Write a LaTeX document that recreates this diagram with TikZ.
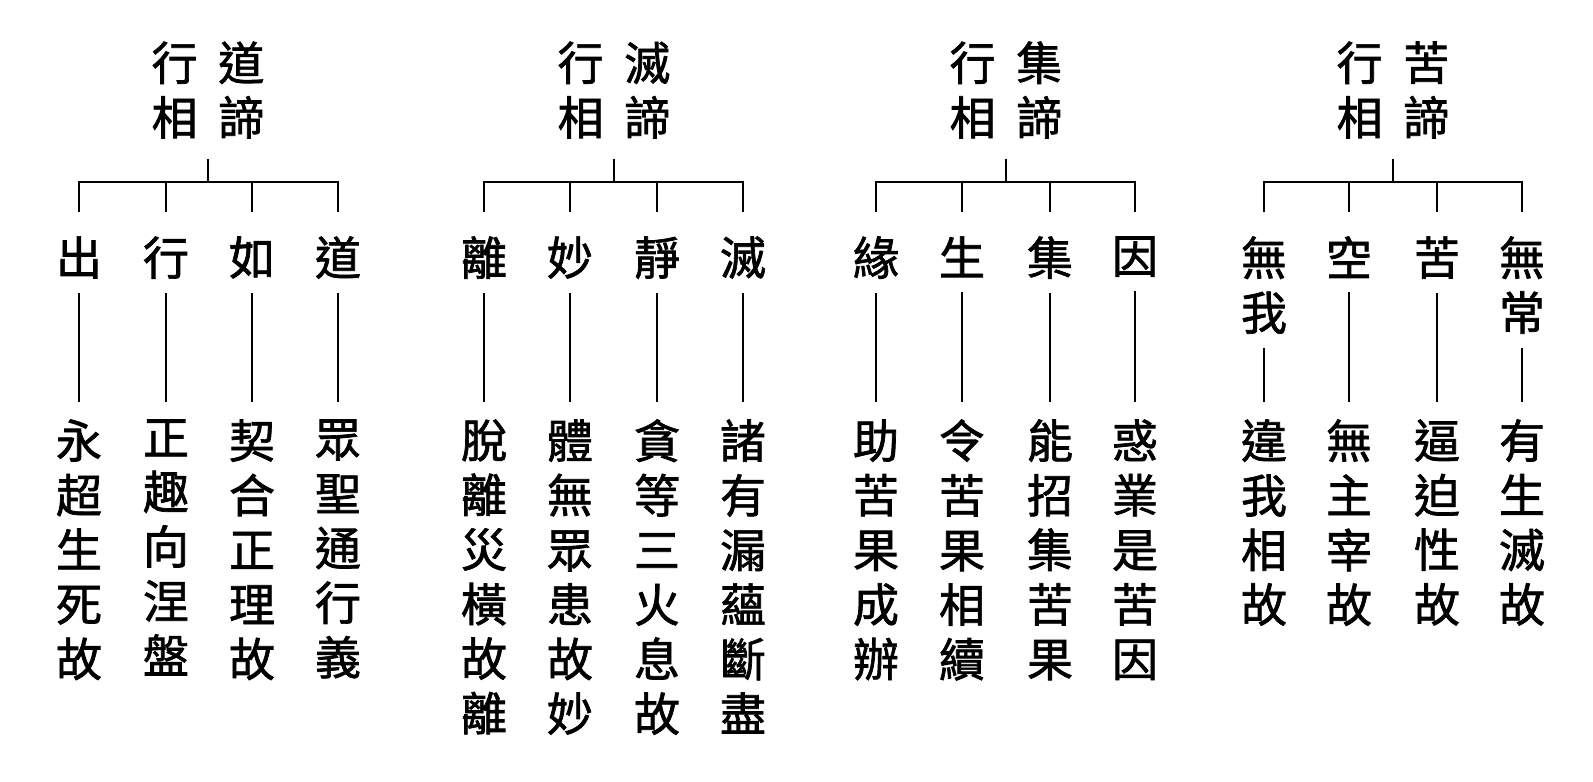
\documentclass[tikz,border=0pt]{standalone}
\usepackage{fontspec}
\setmainfont{Noto Sans CJK TC}[FakeBold=1.5]
\newcommand{\hgap}{\hspace{.45em}}

\begin{document}
\begin{tikzpicture}[x=0.5pt, y=-0.5pt]
    \tikzset{tree lines/.style={line width=1pt, black},
        head/.style={inner sep=0pt, align=center, font=\fontsize{23pt}{27.3pt}\selectfont},
        lab/.style={head, anchor=north},
        col/.style={head, anchor=north}}
    \useasboundingbox (0, 0) rectangle (1593, 781);
    % \draw (0, 0) grid[step=100] (1593, 781);
    \node[head] (h1) at (208, 90) {行\hgap 道\\相\hgap 諦};
    \node[head] (h2) at (614, 90) {行\hgap 滅\\相\hgap 諦};
    \node[head] (h3) at (1006, 90) {行\hgap 集\\相\hgap 諦};
    \node[head] (h4) at (1393, 90) {行\hgap 苦\\相\hgap 諦};
    \coordinate (j1) at (208, 182);
    \coordinate (j2) at (614, 182);
    \coordinate (j3) at (1006, 182);
    \coordinate (j4) at (1393, 182);
    \node[lab] (l11) at (79, 236) {出};
    \node[lab] (l12) at (166, 236) {行};
    \node[lab] (l13) at (252, 236) {如};
    \node[lab] (l14) at (338, 236) {道};
    \node[lab] (l21) at (484, 236) {離};
    \node[lab] (l22) at (570, 236) {妙};
    \node[lab] (l23) at (657, 236) {靜};
    \node[lab] (l24) at (743, 236) {滅};
    \node[lab] (l31) at (876, 236) {緣};
    \node[lab] (l32) at (962, 236) {生};
    \node[lab] (l33) at (1050, 236) {集};
    \node[lab] (l34) at (1135, 236) {因};
    \node[lab] (l41) at (1264, 236) {無\\我};
    \node[lab] (l42) at (1349, 236) {空};
    \node[lab] (l43) at (1437, 236) {苦};
    \node[lab] (l44) at (1522, 236) {無\\常};
    \node[col] (c11) at (79, 419) {永\\超\\生\\死\\故};
    \node[col] (c12) at (166, 419) {正\\趣\\向\\涅\\盤};
    \node[col] (c13) at (252, 419) {契\\合\\正\\理\\故};
    \node[col] (c14) at (338, 419) {眾\\聖\\通\\行\\義};
    \node[col] (c21) at (484, 419) {脫\\離\\災\\橫\\故\\離};
    \node[col] (c22) at (570, 419) {體\\無\\眾\\患\\故\\妙};
    \node[col] (c23) at (657, 419) {貪\\等\\三\\火\\息\\故};
    \node[col] (c24) at (743, 419) {諸\\有\\漏\\蘊\\斷\\盡};
    \node[col] (c31) at (876, 419) {助\\苦\\果\\成\\辦};
    \node[col] (c32) at (962, 419) {令\\苦\\果\\相\\續};
    \node[col] (c33) at (1050, 419) {能\\招\\集\\苦\\果};
    \node[col] (c34) at (1135, 419) {惑\\業\\是\\苦\\因};
    \node[col] (c41) at (1264, 419) {違\\我\\相\\故};
    \node[col] (c42) at (1349, 419) {無\\主\\宰\\故};
    \node[col] (c43) at (1437, 419) {逼\\迫\\性\\故};
    \node[col] (c44) at (1522, 419) {有\\生\\滅\\故};
    \draw [tree lines, shorten <=10pt] (h1) -- (j1);
    \draw [tree lines, shorten <=10pt] (h2) -- (j2);
    \draw [tree lines, shorten <=10pt] (h3) -- (j3);
    \draw [tree lines, shorten <=10pt] (h4) -- (j4);
    \draw [tree lines, shorten <=12pt, shorten >=12pt] (l11) |- (j1) -| (l14);
    \draw [tree lines, shorten <=12pt, shorten >=12pt] (l21) |- (j2) -| (l24);
    \draw [tree lines, shorten <=12pt, shorten >=12pt] (l31) |- (j3) -| (l34);
    \draw [tree lines, shorten <=12pt, shorten >=12pt] (l41) |- (j4) -| (l44);
    \path [tree lines, shorten >=12pt]
        (j1 -| l12) edge (l12)
        (j1 -| l13) edge (l13)
        (j2 -| l22) edge (l22)
        (j2 -| l23) edge (l23)
        (j3 -| l32) edge (l32)
        (j3 -| l33) edge (l33)
        (j4 -| l42) edge (l42)
        (j4 -| l43) edge (l43)
        ;
    \path [tree lines, shorten <=7pt, shorten >=8.5pt]
        (l11) edge (c11) (l12) edge (c12) (l13) edge (c13) (l14) edge (c14)
        (l21) edge (c21) (l22) edge (c22) (l23) edge (c23) (l24) edge (c24)
        (l31) edge (c31) (l32) edge (c32) (l33) edge (c33) (l34) edge (c34)
        (l41) edge (c41) (l42) edge (c42) (l43) edge (c43) (l44) edge (c44)
        ;
\end{tikzpicture}
\end{document}
